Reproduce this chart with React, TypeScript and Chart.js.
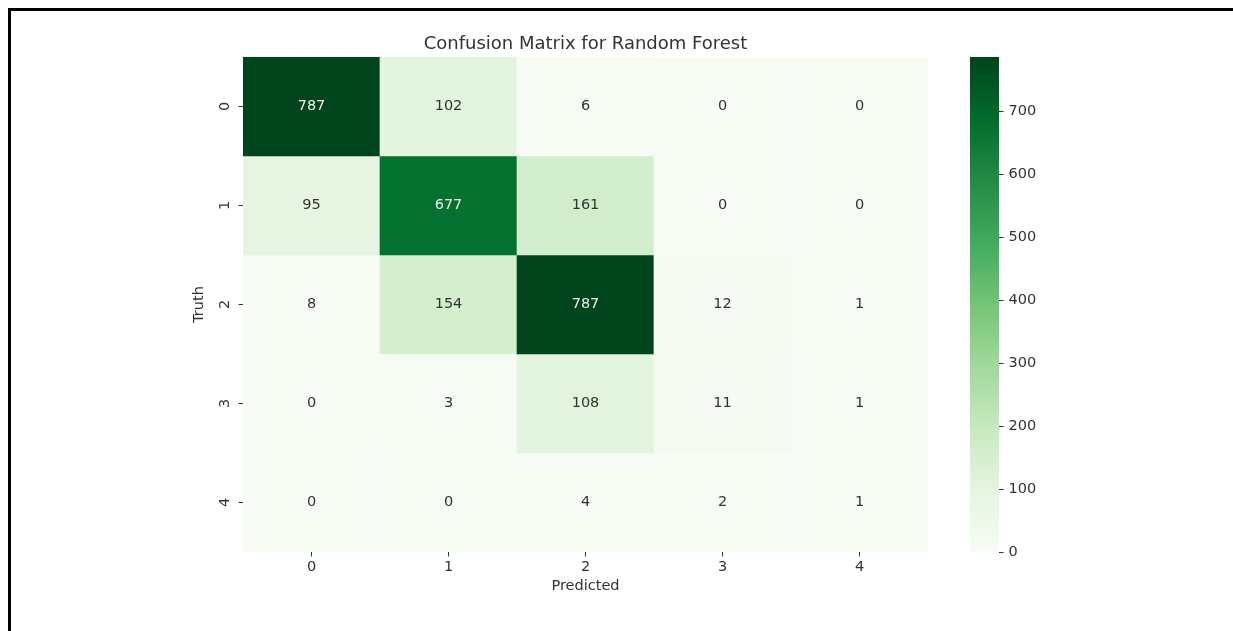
import React, { useEffect, useRef } from "react";
import { Chart, registerables } from "chart.js";

Chart.register(...registerables);

// Class labels shared by both axes
const classLabels = ["0", "1", "2", "3", "4"];

// Confusion matrix rows (truth) x columns (predicted)
const truth0 = [787, 102, 6, 0, 0];
const truth1 = [95, 677, 161, 0, 0];
const truth2 = [8, 154, 787, 12, 1];
const truth3 = [0, 3, 108, 11, 1];
const truth4 = [0, 0, 4, 2, 1];
const matrix = [truth0, truth1, truth2, truth3, truth4];

// Colorbar tick values
const colorbarTicks = [0, 100, 200, 300, 400, 500, 600, 700];

// Matplotlib "Greens" colormap control points
const greensStops = [
  "#f7fcf5",
  "#e5f5e0",
  "#c7e9c0",
  "#a1d99b",
  "#74c476",
  "#41ab5d",
  "#238b45",
  "#006d2c",
  "#00441b",
];

const W = 1233;
const H = 631;
const FONT = "'DejaVu Sans', sans-serif";
const TEXT = "#333333";
const TICK_LINE = "#333333";

const vmax = Math.max(...matrix.flat());

function hexToRgb(hex: string): number[] {
  const n = parseInt(hex.slice(1), 16);
  return [(n >> 16) & 255, (n >> 8) & 255, n & 255];
}

function greensRgb(t: number): number[] {
  const x = Math.min(1, Math.max(0, t)) * (greensStops.length - 1);
  const i = Math.min(greensStops.length - 2, Math.floor(x));
  const f = x - i;
  const a = hexToRgb(greensStops[i]);
  const b = hexToRgb(greensStops[i + 1]);
  return a.map((v, k) => Math.round(v + (b[k] - v) * f));
}

function rgbCss(c: number[]): string {
  return `rgb(${c[0]}, ${c[1]}, ${c[2]})`;
}

function luminance(c: number[]): number {
  const lin = c.map((v) => {
    const s = v / 255;
    return s <= 0.03928 ? s / 12.92 : Math.pow((s + 0.055) / 1.055, 2.4);
  });
  return 0.2126 * lin[0] + 0.7152 * lin[1] + 0.0722 * lin[2];
}

// Writes each cell's count at the centre of its rectangle
const cellLabelPlugin = {
  id: "cellLabels",
  afterDatasetsDraw(chart: any) {
    const { ctx } = chart;
    ctx.save();
    ctx.font = `14.5px ${FONT}`;
    ctx.textAlign = "center";
    ctx.textBaseline = "middle";
    chart.data.datasets.forEach((ds: any, r: number) => {
      const meta = chart.getDatasetMeta(r);
      meta.data.forEach((el: any, c: number) => {
        const value = matrix[r][c];
        const lum = luminance(greensRgb(value / vmax));
        ctx.fillStyle = lum > 0.408 ? "#333333" : "#eef2ee";
        ctx.fillText(String(value), el.x, (el.y + el.base) / 2);
      });
    });
    ctx.restore();
  },
};

function Heatmap() {
  const ref = useRef<HTMLCanvasElement | null>(null);
  useEffect(() => {
    if (!ref.current) return;
    const tickFont = { family: FONT, size: 14.5 };
    const chart = new Chart(ref.current, {
      type: "bar",
      data: {
        labels: classLabels,
        datasets: matrix.map((row, r) => ({
          label: `Truth ${classLabels[r]}`,
          data: row.map(() => [r - 0.5, r + 0.5]),
          backgroundColor: row.map((v) => rgbCss(greensRgb(v / vmax))),
          borderWidth: 0,
          barPercentage: 1,
          categoryPercentage: 1,
          grouped: false,
        })),
      } as any,
      options: {
        animation: false,
        responsive: false,
        maintainAspectRatio: false,
        layout: { padding: { left: 0, top: 0, right: W - 928, bottom: H - 600 } },
        plugins: {
          legend: { display: false },
          tooltip: { enabled: false },
          title: { display: false },
        },
        scales: {
          x: {
            type: "category",
            position: "bottom",
            offset: true,
            grid: {
              display: true,
              drawOnChartArea: false,
              drawTicks: true,
              tickLength: 4.5,
              offset: false,
              color: TICK_LINE,
            },
            border: { display: false },
            ticks: { padding: 2, font: tickFont, color: TEXT },
            title: {
              display: true,
              text: "Predicted",
              font: tickFont,
              color: TEXT,
              padding: { top: 0, bottom: 5 },
            },
            afterFit: (s: any) => {
              s.height = 48;
            },
          },
          xTitle: {
            type: "category",
            axis: "x",
            position: "top",
            labels: classLabels,
            grid: { display: false },
            border: { display: false },
            ticks: { display: false },
            title: {
              display: true,
              text: "Confusion Matrix for Random Forest",
              font: { family: FONT, size: 18 },
              color: TEXT,
              padding: { top: 34, bottom: 0 },
            },
            afterFit: (s: any) => {
              s.height = 57;
            },
          },
          y: {
            type: "linear",
            position: "left",
            reverse: true,
            min: -0.5,
            max: 4.5,
            afterBuildTicks: (s: any) => {
              s.ticks = classLabels.map((_, i) => ({ value: i }));
            },
            grid: {
              display: true,
              drawOnChartArea: false,
              drawTicks: true,
              tickLength: 4.5,
              color: TICK_LINE,
            },
            border: { display: false },
            ticks: {
              callback: (v: any) => classLabels[Number(v)],
              minRotation: 90,
              maxRotation: 90,
              crossAlign: "center",
              padding: 9,
              font: tickFont,
              color: TEXT,
            },
            title: {
              display: true,
              text: "Truth",
              font: tickFont,
              color: TEXT,
              padding: { top: 191, bottom: 0 },
            },
            afterFit: (s: any) => {
              s.width = 243;
            },
          },
        },
      } as any,
      plugins: [cellLabelPlugin],
    });
    return () => chart.destroy();
  }, []);
  return (
    <canvas
      ref={ref}
      width={W}
      height={H}
      style={{ position: "absolute", left: 0, top: 0, width: W, height: H }}
    />
  );
}

function Colorbar() {
  const ref = useRef<HTMLCanvasElement | null>(null);
  useEffect(() => {
    if (!ref.current) return;
    const tickFont = { family: FONT, size: 14.5 };
    const chart = new Chart(ref.current, {
      type: "bar",
      data: {
        labels: ["scale"],
        datasets: [
          {
            data: [[0, vmax]],
            backgroundColor: (ctx: any) => {
              const c = ctx.chart;
              if (!c.chartArea) return greensStops[greensStops.length - 1];
              const ys = c.scales.y;
              const g = c.ctx.createLinearGradient(
                0,
                ys.getPixelForValue(0),
                0,
                ys.getPixelForValue(vmax)
              );
              greensStops.forEach((col, i) =>
                g.addColorStop(i / (greensStops.length - 1), col)
              );
              return g;
            },
            borderWidth: 0,
            barPercentage: 1,
            categoryPercentage: 1,
          },
        ],
      } as any,
      options: {
        animation: false,
        responsive: false,
        maintainAspectRatio: false,
        layout: { padding: { left: 970, top: 57, right: W - 999 - 60, bottom: H - 552 } },
        plugins: {
          legend: { display: false },
          tooltip: { enabled: false },
          title: { display: false },
        },
        scales: {
          x: { display: false },
          y: {
            position: "right",
            min: 0,
            max: vmax,
            afterBuildTicks: (s: any) => {
              s.ticks = colorbarTicks.map((v) => ({ value: v }));
            },
            grid: {
              display: true,
              drawOnChartArea: false,
              drawTicks: true,
              tickLength: 4.5,
              color: TICK_LINE,
            },
            border: { display: false },
            ticks: { padding: 5, font: tickFont, color: TEXT },
            afterFit: (s: any) => {
              s.width = 60;
            },
          },
        },
      } as any,
    });
    return () => chart.destroy();
  }, []);
  return (
    <canvas
      ref={ref}
      width={W}
      height={H}
      style={{ position: "absolute", left: 0, top: 0, width: W, height: H }}
    />
  );
}

export default function App() {
  return (
    <div
      style={{
        position: "absolute",
        left: 0,
        top: 0,
        width: W,
        height: H,
        background: "#ffffff",
        overflow: "hidden",
      }}
    >
      <div style={{ position: "absolute", left: 8, top: 8, width: W - 8, height: 3, background: "#000" }} />
      <div style={{ position: "absolute", left: 8, top: 8, width: 3, height: H - 8, background: "#000" }} />
      <Heatmap />
      <Colorbar />
    </div>
  );
}
